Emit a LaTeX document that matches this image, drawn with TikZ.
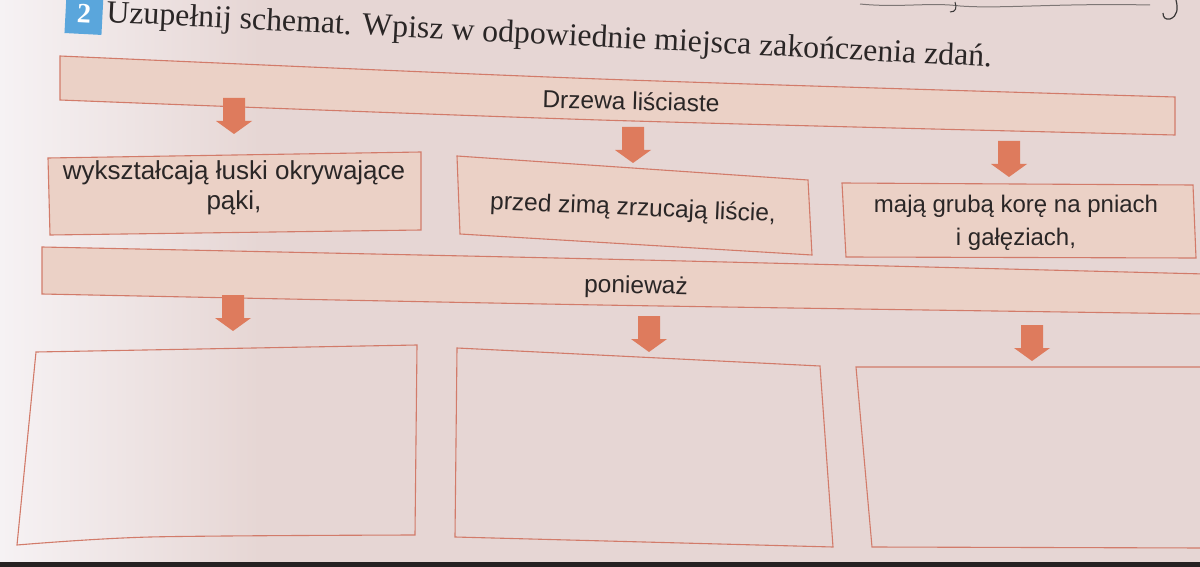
\documentclass[tikz,border=0pt]{standalone}
\usepackage{fontspec}
\setmainfont{Liberation Sans}
\newfontfamily\titlefont{Liberation Serif}
\usetikzlibrary{calc}
\definecolor{paper}{HTML}{E6D6D4}
\definecolor{paperlight}{HTML}{F6F2F4}
\definecolor{boxline}{HTML}{D27B6A}
\definecolor{boxfill}{HTML}{EBD1C6}
\definecolor{arrowcol}{HTML}{DE7B5D}
\definecolor{inktext}{HTML}{2A2626}
\definecolor{badge}{HTML}{5AA6DC}
\definecolor{pen}{HTML}{3A3838}
\tikzset{
  filledbox/.style={draw=boxline, fill=boxfill, line width=1.1pt},
  emptybox/.style={draw=boxline, line width=1.1pt},
  label/.style={text=inktext, font=\fontsize{24.5}{30}\selectfont, align=center, inner sep=0pt},
  downarrow/.pic={\fill[arrowcol] (-11,0) -- (11,0) -- (11,23) -- (18,23) -- (0,36) -- (-18,23) -- (-11,23) -- cycle;}
}
\begin{document}
\begin{tikzpicture}[x=1pt,y=-1pt]
\useasboundingbox (0,0) rectangle (1200,567);
\clip (0,0) rectangle (1200,567);
% paper
\fill[paper] (0,0) rectangle (1200,567);
\shade[left color=paperlight, right color=paper] (0,0) rectangle (260,567);
\fill[inktext!90!black] (0,562) rectangle (1200,567);

% handwriting traces at the top
\draw[pen, line width=1pt, opacity=0.6] (860,4) .. controls (900,8) and (930,2) .. (960,6) .. controls (1000,9) and (1060,3) .. (1150,5);
\draw[pen, line width=1pt] (955,2) .. controls (957,8) and (956,12) .. (950,12);
\draw[pen, line width=1.2pt] (1176,0) .. controls (1178,8) and (1178,16) .. (1170,19) .. controls (1165,20) and (1163,17) .. (1163,13);

% title
\node[fill=badge, minimum width=37pt, minimum height=40pt, inner sep=0pt, rotate=-3,
      text=white, font=\titlefont\bfseries\fontsize{28}{30}\selectfont] (badge) at (84,14) {2};
\node[anchor=base west, rotate=-2.9, inner sep=0pt, text=inktext,
      font=\titlefont\fontsize{31.8}{34}\selectfont] (title) at (106,22)
  {Uzupełnij schemat. Wpisz w odpowiednie miejsca zakończenia zdań.};

% banner 1
\filldraw[filledbox] plot[smooth] coordinates {(60,56) (600,79) (1175,97)}
  -- plot[smooth] coordinates {(1175,135) (600,120) (60,100)} -- cycle;
\node[label, rotate=-1.5] (drzewa) at (631,101) {Drzewa liściaste};

% arrows row 1
\pic at (234,98) {downarrow};
\pic at (633,127) {downarrow};
\pic at (1009,141) {downarrow};

% row 1 boxes
\filldraw[filledbox] (48,158) -- (421,152) -- (421,230) -- (50,235) -- cycle;
\node[label, font=\fontsize{26}{30}\selectfont] (b1) at (234,188) {wykształcają łuski okrywające\\pąki,};
\filldraw[filledbox] (457,156) -- (808,180) -- (812,255) -- (460,234) -- cycle;
\node[label, rotate=-2.5] (b2) at (633,209) {przed zimą zrzucają liście,};
\filldraw[filledbox] (842,183) -- (1193,185) -- (1196,258) -- (846,257) -- cycle;
\node[label, font=\fontsize{24}{33}\selectfont] (b3) at (1016,223) {mają grubą korę na pniach\\i gałęziach,};

% banner 2
\filldraw[filledbox] plot[smooth] coordinates {(42,247) (600,259) (1205,274)}
  -- plot[smooth] coordinates {(1205,314) (600,305) (42,294)} -- cycle;
\node[label, rotate=-1.2] (ponie) at (636,287) {ponieważ};

% arrows row 2
\pic at (233,295) {downarrow};
\pic at (649,316) {downarrow};
\pic at (1032,325) {downarrow};

% row 2 boxes (empty)
\draw[emptybox] (36,352) -- (417,345) -- (415,535) -- plot[smooth] coordinates {(415,535) (150,537) (17,545)} -- cycle;
\draw[emptybox] (457,348) -- (820,366) -- (833,547) -- (455,537) -- cycle;
\draw[emptybox] (856,367) -- (1205,367) -- (1205,548) -- (872,547) -- cycle;
\end{tikzpicture}
\end{document}
